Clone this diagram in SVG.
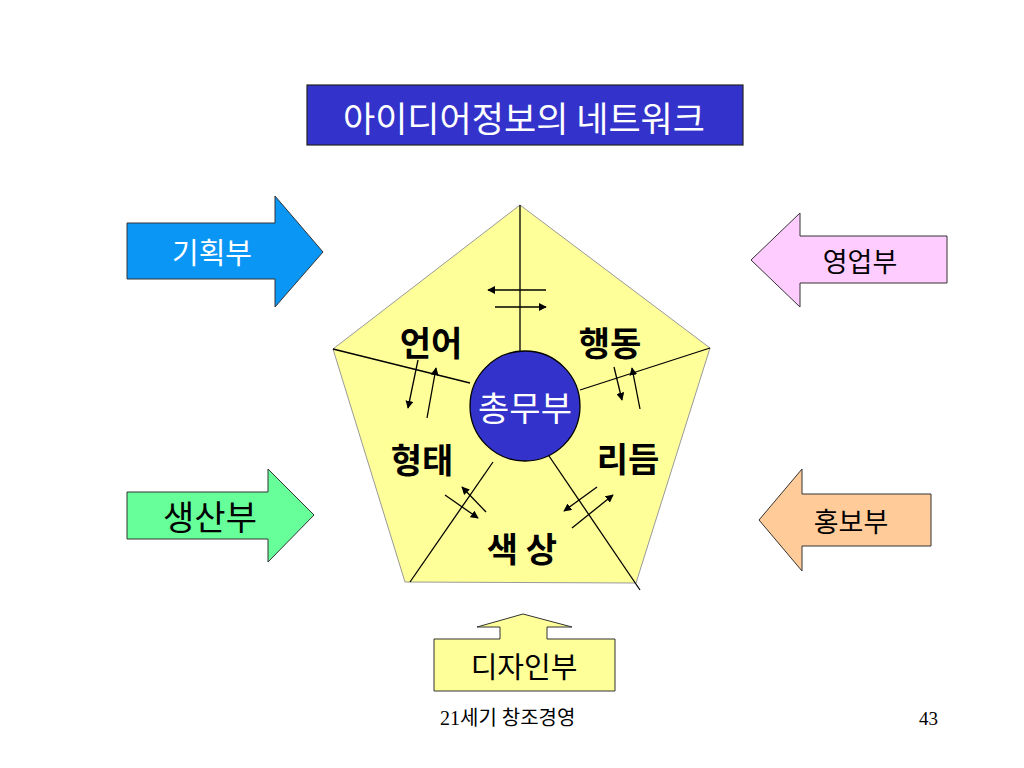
<svg xmlns="http://www.w3.org/2000/svg" width="1024" height="768" viewBox="0 0 1024 768">
<style>
.ko{font-family:"Noto Sans CJK KR","Liberation Sans",sans-serif;}
.lbl{font-family:"Noto Sans CJK KR","Liberation Sans",sans-serif;font-weight:bold;font-size:34px;fill:#000;}
.ln{stroke:#000;stroke-width:1.3;fill:none;}
.ar{stroke:#000;stroke-width:1.3;fill:none;marker-end:url(#ah);}
.sh{stroke:#333;stroke-width:1;}
</style>
<defs>
<marker id="ah" viewBox="0 0 10 10" refX="9" refY="5" markerWidth="8" markerHeight="8" markerUnits="userSpaceOnUse" orient="auto">
<path d="M0,0 L10,5 L0,10 Z" fill="#000"/>
</marker>
</defs>
<rect width="1024" height="768" fill="#fff"/>

<g id="title">
<rect x="307" y="85" width="436" height="60" fill="#3333CC" stroke="#222" stroke-width="1.2"/>
<text x="524" y="116" class="ko" font-size="35" fill="#fff" text-anchor="middle" dominant-baseline="central">아이디어정보의 네트워크</text>
</g>

<g id="pentagon">
<polygon points="520,205 710,348 636,583 405,582 333,349" fill="#FFFF99" stroke="#999" stroke-width="1"/>
</g>

<g id="connectors">
<line class="ln" x1="520" y1="205" x2="520" y2="352"/>
<line class="ln" x1="333" y1="349" x2="470" y2="383"/>
<line class="ln" x1="710" y1="348" x2="580" y2="390"/>
<line class="ln" x1="493" y1="462" x2="410" y2="582"/>
<line class="ln" x1="547" y1="453" x2="640" y2="590"/>
<line class="ar" x1="546" y1="290" x2="488" y2="290"/>
<line class="ar" x1="495" y1="307" x2="546" y2="307"/>
<line class="ar" x1="418" y1="360" x2="408" y2="408"/>
<line class="ar" x1="427" y1="418" x2="436" y2="368"/>
<line class="ar" x1="614" y1="367" x2="622" y2="400"/>
<line class="ar" x1="640" y1="409" x2="632" y2="368"/>
<line class="ar" x1="445" y1="495" x2="478" y2="518"/>
<line class="ar" x1="486" y1="512" x2="462" y2="487"/>
<line class="ar" x1="597" y1="487" x2="564" y2="511"/>
<line class="ar" x1="572" y1="528" x2="613" y2="495"/>
</g>

<g id="center">
<circle cx="525" cy="406" r="55" fill="#3333CC" stroke="#000" stroke-width="1.3"/>
<text x="525" y="406" class="ko" font-size="34" fill="#fff" text-anchor="middle" dominant-baseline="central">총무부</text>
</g>

<g id="label-eoneo"><text x="431" y="341" class="lbl" text-anchor="middle" dominant-baseline="central">언어</text></g>
<g id="label-haengdong"><text x="610" y="341" class="lbl" text-anchor="middle" dominant-baseline="central">행동</text></g>
<g id="label-hyeongtae"><text x="422" y="458" class="lbl" text-anchor="middle" dominant-baseline="central">형태</text></g>
<g id="label-rideum"><text x="628" y="457" class="lbl" text-anchor="middle" dominant-baseline="central">리듬</text></g>
<g id="label-saeksang"><text x="522" y="547" class="lbl" text-anchor="middle" dominant-baseline="central">색 상</text></g>

<g id="planning">
<polygon class="sh" points="127,223 275,223 275,196 323,252 275,307 275,279 127,279" fill="#0A96F5"/>
<text x="212" y="251" class="ko" font-size="29" fill="#fff" text-anchor="middle" dominant-baseline="central">기획부</text>
</g>

<g id="sales">
<polygon class="sh" points="947,236 800,236 800,213 751,260 800,307 800,283 947,283" fill="#FFCCFF"/>
<text x="860" y="260" class="ko" font-size="27" fill="#000" text-anchor="middle" dominant-baseline="central">영업부</text>
</g>

<g id="production">
<polygon class="sh" points="127,492 268,492 268,469 314,515 268,562 268,539 127,539" fill="#66FF99"/>
<text x="210" y="515" class="ko" font-size="34" fill="#000" text-anchor="middle" dominant-baseline="central">생산부</text>
</g>

<g id="pr">
<polygon class="sh" points="931,494 802,494 802,469 759,520 802,571 802,546 931,546" fill="#FFCC99"/>
<text x="851" y="520" class="ko" font-size="27" fill="#000" text-anchor="middle" dominant-baseline="central">홍보부</text>
</g>

<g id="design">
<polygon class="sh" points="434,639 500,639 500,627 477,627 523,614 572,627 547,627 547,639 615,639 615,691 434,691" fill="#FFFF99"/>
<text x="524" y="665" class="ko" font-size="29" fill="#000" text-anchor="middle" dominant-baseline="central">디자인부</text>
</g>

<g id="footer">
<text x="440" y="725" font-family="'Liberation Serif','Noto Sans CJK KR',serif" font-size="20" fill="#000">21세기 창조경영</text>
<text x="938" y="725" font-family="'Liberation Serif',serif" font-size="19" fill="#000" text-anchor="end">43</text>
</g>
</svg>
